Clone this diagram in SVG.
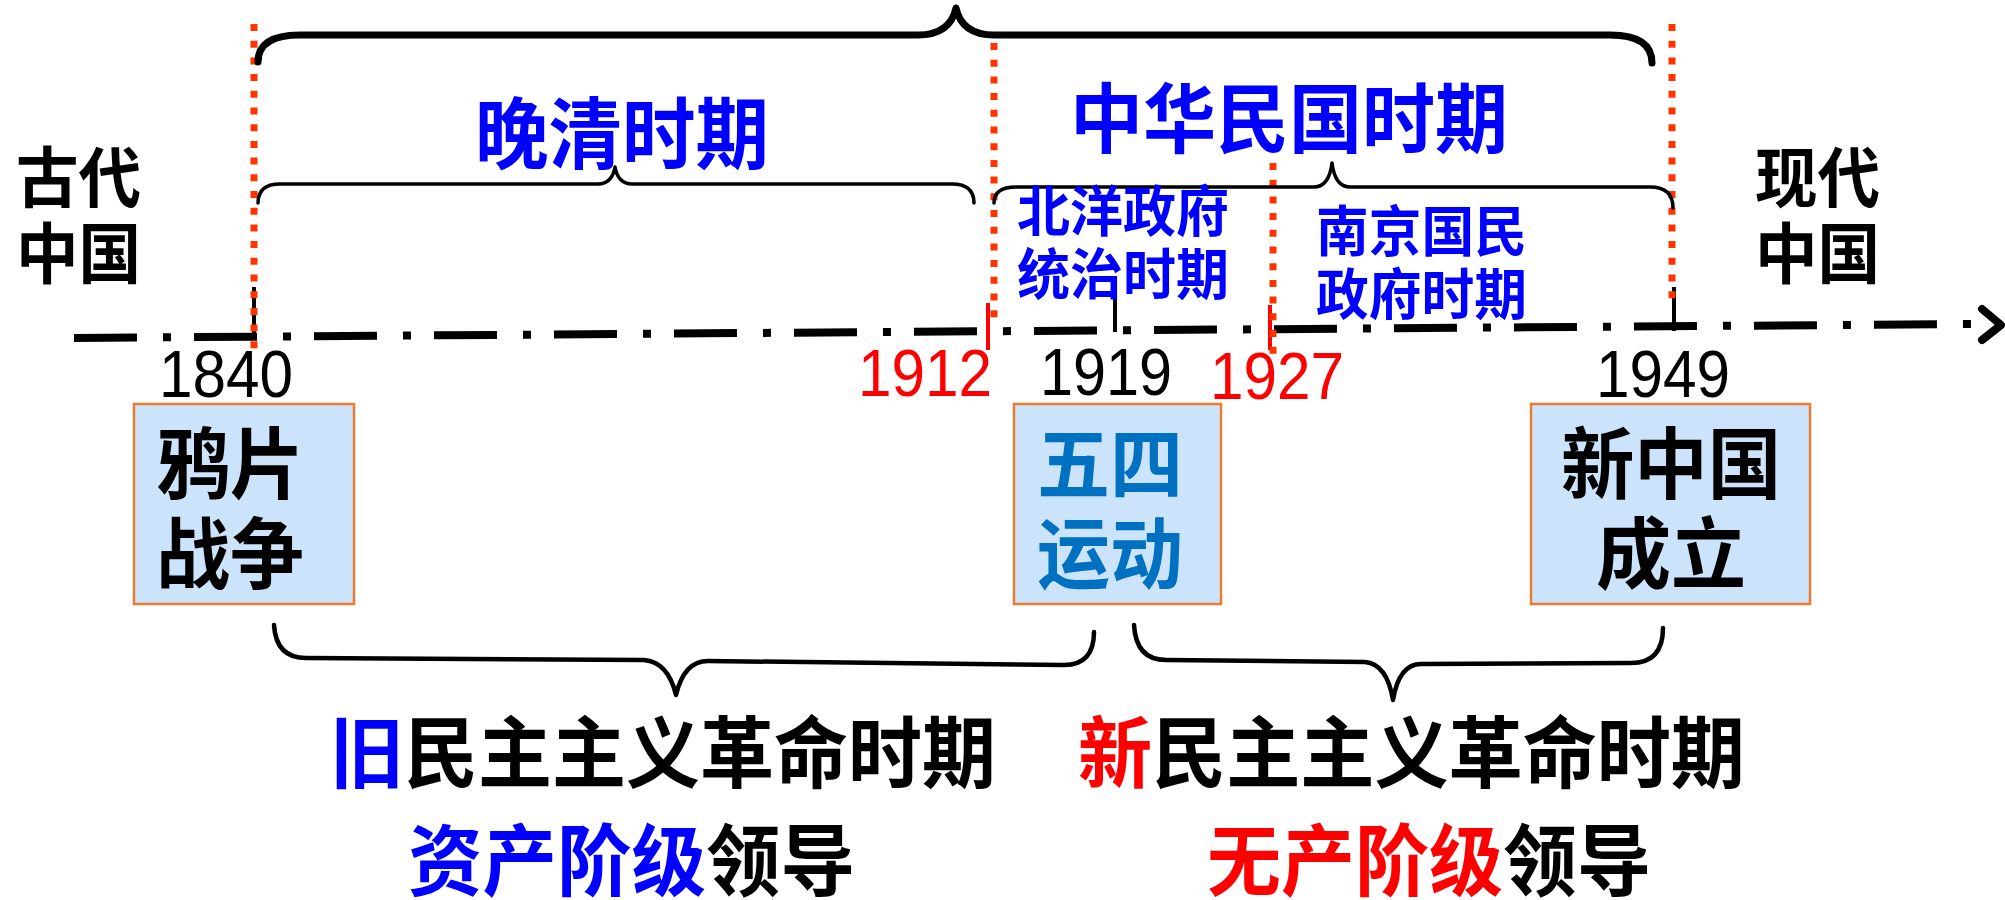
<svg xmlns="http://www.w3.org/2000/svg" width="2005" height="900" viewBox="0 0 2005 900">
<style>
.cj{font-family:"Noto Sans CJK SC","Noto Sans",sans-serif;font-weight:bold}
.num{font-family:"Liberation Sans",Arial,sans-serif;font-size:66px}
.blue{fill:#0000FF}
.blk{fill:#000000}
.red{fill:#FF0000}
.box{fill:#CCE4FB;stroke:#ED7D31;stroke-width:2.5}
.dot{stroke:#FF3300;stroke-width:7;stroke-dasharray:7 9.7;fill:none}
.brace{fill:none;stroke:#000;stroke-linecap:round;stroke-linejoin:round}
.tick{stroke:#000;stroke-width:4}
.rtick{stroke:#FF0000;stroke-width:4}
</style>
<g id="timeline">
<line x1="74" y1="338" x2="1975" y2="324" stroke="#000" stroke-width="8" stroke-dasharray="63 26 8 23"/>
<polyline points="1982,309 2001,325 1982,340" fill="none" stroke="#000" stroke-width="8" stroke-linecap="round" stroke-linejoin="round"/>
</g>
<g id="connectors">
<line class="tick" x1="254" y1="287" x2="254" y2="340"/>
<line class="tick" x1="1115" y1="283" x2="1115" y2="332"/>
<line class="tick" x1="1674" y1="287" x2="1674" y2="331"/>
<line class="rtick" x1="988" y1="303" x2="988" y2="350"/>
<line class="rtick" x1="1270" y1="305" x2="1270" y2="350"/>
<line class="dot" x1="254" y1="24" x2="254" y2="350"/>
<line class="dot" x1="994" y1="43" x2="994" y2="323"/>
<line class="dot" x1="1273" y1="163" x2="1273" y2="355"/>
<line class="dot" x1="1672" y1="24" x2="1672" y2="303"/>
<path class="brace" stroke-width="7" d="M258,62 Q258,35 300,35 L918,35 Q950,35 956,8 Q962,35 994,35 L1610,35 Q1652,35 1652,63"/>
<path class="brace" stroke-width="3.5" d="M258,203 Q258,184 280,184 L598,184 Q612,184 615,167 Q618,184 632,184 L952,184 Q974,184 974,203"/>
<path class="brace" stroke-width="3.5" d="M994,203 Q994,187 1016,187 L1314,187 Q1329,187 1332,163 Q1335,187 1350,187 L1650,187 Q1673,187 1673,208"/>
<path class="brace" stroke-width="4.5" d="M274,625 Q276,658 306,658 L644,660 Q668,662 676,695 Q684,661 708,661 L1064,665 Q1094,665 1094,632"/>
<path class="brace" stroke-width="4.5" d="M1134,625 Q1136,660 1166,660 L1365,662 Q1387,664 1393,700 Q1399,664 1421,664 L1631,663 Q1663,663 1663,628"/>
</g>
<g id="ancient">
<text class="cj blk" x="16" y="202" font-size="66" textLength="125" lengthAdjust="spacingAndGlyphs">古代</text>
<text class="cj blk" x="16" y="278" font-size="66" textLength="125" lengthAdjust="spacingAndGlyphs">中国</text>
</g>
<g id="modern">
<text class="cj blk" x="1755" y="202" font-size="66" textLength="125" lengthAdjust="spacingAndGlyphs">现代</text>
<text class="cj blk" x="1755" y="278" font-size="66" textLength="125" lengthAdjust="spacingAndGlyphs">中国</text>
</g>
<g id="late-qing">
<text class="cj blue" x="475" y="163" font-size="78" textLength="294" lengthAdjust="spacingAndGlyphs">晚清时期</text>
</g>
<g id="roc">
<text class="cj blue" x="1070" y="147" font-size="76" textLength="438" lengthAdjust="spacingAndGlyphs">中华民国时期</text>
</g>
<g id="beiyang">
<text class="cj blue" x="1017" y="231" font-size="55" textLength="212" lengthAdjust="spacingAndGlyphs">北洋政府</text>
<text class="cj blue" x="1017" y="294" font-size="55" textLength="212" lengthAdjust="spacingAndGlyphs">统治时期</text>
</g>
<g id="nanjing">
<text class="cj blue" x="1316" y="251" font-size="55" textLength="211" lengthAdjust="spacingAndGlyphs">南京国民</text>
<text class="cj blue" x="1316" y="314" font-size="55" textLength="211" lengthAdjust="spacingAndGlyphs">政府时期</text>
</g>
<g id="years">
<text class="num blk" x="159" y="397" textLength="134" lengthAdjust="spacingAndGlyphs">1840</text>
<text class="num red" x="858" y="396" textLength="134" lengthAdjust="spacingAndGlyphs">1912</text>
<text class="num blk" x="1040" y="395" textLength="132" lengthAdjust="spacingAndGlyphs">1919</text>
<text class="num red" x="1210" y="399" textLength="134" lengthAdjust="spacingAndGlyphs">1927</text>
<text class="num blk" x="1596" y="397" textLength="134" lengthAdjust="spacingAndGlyphs">1949</text>
</g>
<g id="opium-war">
<rect class="box" x="134" y="404" width="220" height="200"/>
<text class="cj blk" x="156" y="493" font-size="78" textLength="148" lengthAdjust="spacingAndGlyphs">鸦片</text>
<text class="cj blk" x="156" y="583" font-size="78" textLength="148" lengthAdjust="spacingAndGlyphs">战争</text>
</g>
<g id="may-fourth">
<rect class="box" x="1014" y="404" width="207" height="200"/>
<text class="cj" fill="#0070C0" x="1037" y="493" font-size="78" textLength="146" lengthAdjust="spacingAndGlyphs">五四</text>
<text class="cj" fill="#0070C0" x="1037" y="583" font-size="78" textLength="146" lengthAdjust="spacingAndGlyphs">运动</text>
</g>
<g id="new-china">
<rect class="box" x="1531" y="404" width="279" height="200"/>
<text class="cj blk" x="1561" y="493" font-size="78" textLength="220" lengthAdjust="spacingAndGlyphs">新中国</text>
<text class="cj blk" x="1596" y="583" font-size="78" textLength="150" lengthAdjust="spacingAndGlyphs">成立</text>
</g>
<g id="old-democratic">
<text class="cj blk" x="330" y="782" font-size="78" textLength="666" lengthAdjust="spacingAndGlyphs"><tspan class="blue">旧</tspan>民主主义革命时期</text>
<text class="cj blk" x="408" y="890" font-size="78" textLength="447" lengthAdjust="spacingAndGlyphs"><tspan class="blue">资产阶级</tspan>领导</text>
</g>
<g id="new-democratic">
<text class="cj blk" x="1078" y="782" font-size="78" textLength="667" lengthAdjust="spacingAndGlyphs"><tspan class="red">新</tspan>民主主义革命时期</text>
<text class="cj blk" x="1207" y="890" font-size="78" textLength="444" lengthAdjust="spacingAndGlyphs"><tspan class="red">无产阶级</tspan>领导</text>
</g>
</svg>
